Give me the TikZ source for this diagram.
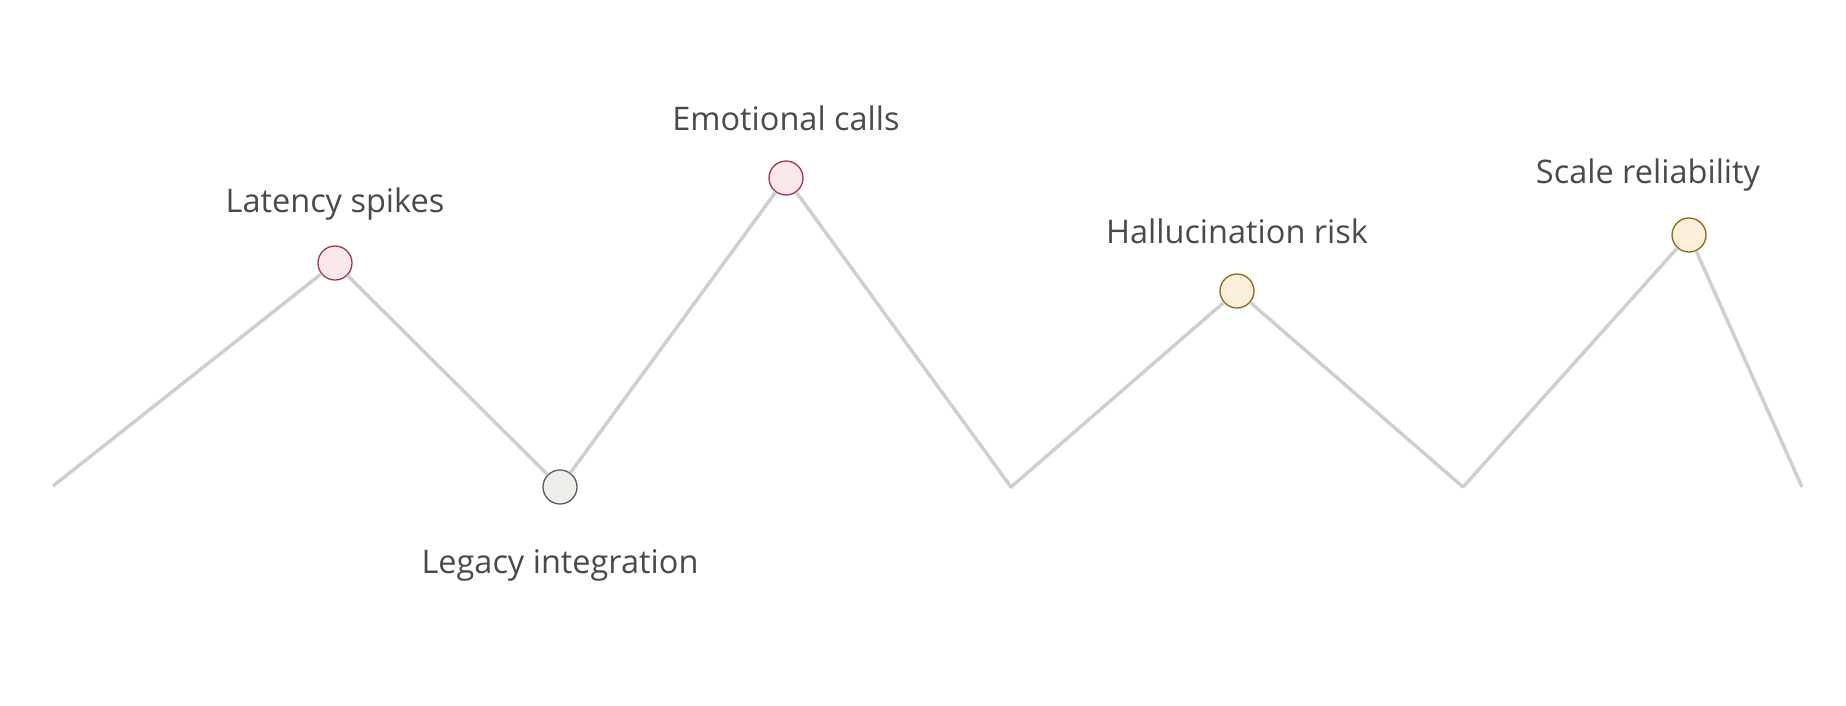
\documentclass[tikz,border=0pt]{standalone}
\usepackage{fontspec}
\setmainfont{Open Sans}
\definecolor{trail}{HTML}{CFCFCF}
\definecolor{ink}{HTML}{4A4A4A}
\definecolor{redfill}{HTML}{FBE9EC}
\definecolor{reddraw}{HTML}{9B3B4B}
\definecolor{grayfill}{HTML}{EEEEE8}
\definecolor{graydraw}{HTML}{5A5A5A}
\definecolor{yelfill}{HTML}{FBEEDB}
\definecolor{yeldraw}{HTML}{8A6A1A}
\tikzset{
  dot/.style={circle, minimum size=34pt, inner sep=0pt, line width=1.3pt},
  reddot/.style={dot, fill=redfill, draw=reddraw},
  graydot/.style={dot, fill=grayfill, draw=graydraw},
  yeldot/.style={dot, fill=yelfill, draw=yeldraw},
  lbl/.style={text=ink, font=\fontsize{32.5}{38}\selectfont}
}
\begin{document}
\begin{tikzpicture}[x=1pt,y=-1pt]
\useasboundingbox (0,0) rectangle (1846,705);
\coordinate (s) at (53,486);
\coordinate (v1) at (1011,487);
\coordinate (v2) at (1463,487);
\coordinate (e) at (1802,487);
\node[reddot] (lat) at (335,263) {};
\node[graydot] (leg) at (560,487) {};
\node[reddot] (emo) at (786,178) {};
\node[yeldot] (hal) at (1237,291) {};
\node[yeldot] (sca) at (1689,235) {};
% trail
\draw[trail, line width=3.5pt, line join=round]
  (s) -- (lat) -- (leg) -- (emo) -- (v1) -- (hal) -- (v2) -- (sca) -- (e);
\node[lbl] at (335,204) {Latency spikes};
\node[lbl] at (560,565) {Legacy integration};
\node[lbl] at (786,118) {Emotional calls};
\node[lbl] at (1237,231) {Hallucination risk};
\node[lbl] at (1648,175) {Scale reliability};
\end{tikzpicture}
\end{document}
